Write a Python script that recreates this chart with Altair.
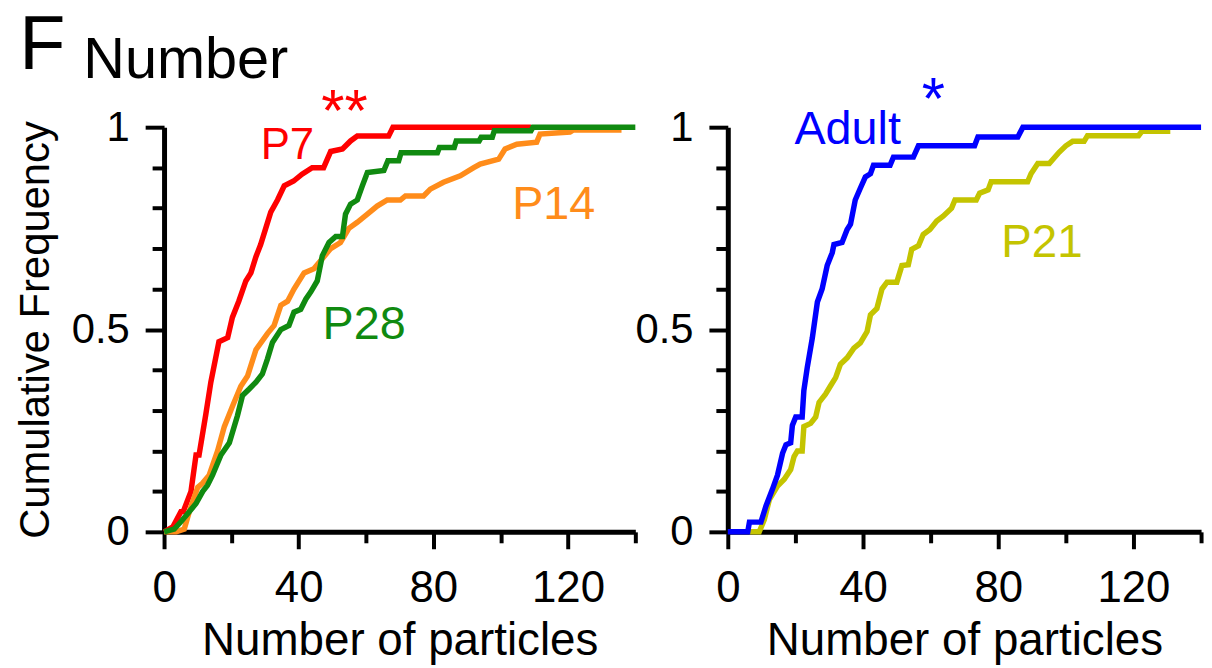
import altair as alt
import pandas as pd

# ---------------- data ----------------
p7_x = [0, 2.6, 5, 5.7, 8, 9.5, 10.4, 12.4, 13.9, 16.3, 18.9, 20.3, 22.2, 24.3, 25.8, 27.3,
        28.7, 30.2, 31.7, 33.7, 35.7, 38.5, 41, 44, 47.4, 49.5, 53, 55.4, 57.4, 66.7, 68, 109]
p7_y = [0, 0.012, 0.05, 0.05, 0.1, 0.19, 0.19, 0.29, 0.37, 0.47, 0.48, 0.53, 0.57, 0.62, 0.64, 0.68,
        0.71, 0.75, 0.79, 0.82, 0.855, 0.867, 0.884, 0.9, 0.9, 0.94, 0.946, 0.966, 0.978, 0.978, 1.0, 1.0]

p14_x = [0, 3.6, 6, 7.5, 10, 11.4, 13.4, 15.9, 17.9, 20.3, 22.8, 24.8, 27.3, 30.7, 32.7, 34.7,
         36.7, 38.6, 41.6, 44.5, 47, 49.5, 52.4, 54.9, 57.4, 60.4, 63.3, 66.3, 70.2, 71.7, 77.1,
         79.1, 83, 88, 92, 93.9, 99.4, 101.3, 104.8, 110.7, 111.7, 120.6, 121.6, 135.9]
p14_y = [0, 0, 0.007, 0.05, 0.11, 0.12, 0.14, 0.2, 0.26, 0.31, 0.36, 0.385, 0.45, 0.49, 0.51, 0.56,
         0.57, 0.6, 0.64, 0.65, 0.675, 0.7, 0.715, 0.75, 0.765, 0.785, 0.805, 0.82, 0.82, 0.83, 0.83,
         0.847, 0.864, 0.88, 0.9, 0.909, 0.921, 0.946, 0.958, 0.963, 0.983, 0.988, 0.993, 0.993]

p28_x = [0, 3, 5, 7, 9.5, 11.5, 12.9, 14.4, 16.9, 19.4, 21.8, 23.3, 25.3, 27.3, 29.2, 30.7, 32.2,
         34.7, 37.1, 38.6, 40.6, 42.1, 43.6, 45.5, 47, 49, 51, 53, 53.9, 55.4, 57.4, 58.9, 60.4,
         65.3, 66.5, 69.7, 70.4, 81.2, 81.8, 86.2, 86.8, 93.6, 94.2, 97.5, 98.1, 109, 109.6, 140]
p28_y = [0, 0.007, 0.025, 0.045, 0.07, 0.1, 0.115, 0.14, 0.19, 0.22, 0.287, 0.337, 0.353, 0.37, 0.39,
         0.427, 0.468, 0.5, 0.51, 0.543, 0.55, 0.575, 0.593, 0.62, 0.682, 0.715, 0.73, 0.73, 0.785,
         0.81, 0.82, 0.855, 0.888, 0.893, 0.917, 0.917, 0.937, 0.937, 0.95, 0.95, 0.966, 0.966,
         0.975, 0.975, 0.991, 0.991, 1.0, 1.0]

adult_x = [0, 5.9, 6.4, 9.8, 11.3, 13.2, 14.7, 16.2, 17.2, 18.6, 19.1, 20.1, 22, 22.5, 23.5, 25,
           26.5, 27.9, 29.4, 30.9, 31.4, 33.8, 35.3, 36.3, 37.7, 39.2, 40.7, 42.2, 43.1, 48, 49,
           54.9, 56.4, 73, 74, 85.8, 87.3, 140]
adult_y = [0, 0, 0.024, 0.024, 0.064, 0.105, 0.14, 0.194, 0.215, 0.22, 0.263, 0.284, 0.284, 0.349,
           0.406, 0.479, 0.568, 0.6, 0.658, 0.69, 0.71, 0.715, 0.747, 0.76, 0.82, 0.849, 0.877,
           0.885, 0.906, 0.906, 0.926, 0.926, 0.954, 0.954, 0.976, 0.976, 1.0, 1.0]

p21_x = [6.4, 9.3, 10.8, 12.3, 14.7, 16.7, 18.6, 19.6, 20.6, 22, 22.5, 24.5, 26, 27, 28.9, 30.4,
         31.9, 33.3, 35.3, 37.3, 39.2, 41.2, 42.2, 44.1, 45.6, 47.1, 50, 51.5, 53.4, 54.4, 56.4,
         57.8, 59.8, 61.8, 63.7, 66.2, 67.2, 73.5, 74.5, 77, 77.9, 88.7, 89.7, 91.7, 95.1, 98,
         100, 102, 105.4, 106.4, 121.5, 122.5, 130.9]
p21_y = [0, 0, 0.03, 0.08, 0.113, 0.13, 0.154, 0.186, 0.2, 0.2, 0.26, 0.268, 0.284, 0.32, 0.34,
         0.361, 0.381, 0.414, 0.43, 0.454, 0.467, 0.495, 0.536, 0.552, 0.6, 0.617, 0.617, 0.658,
         0.66, 0.698, 0.707, 0.735, 0.747, 0.768, 0.78, 0.8, 0.82, 0.82, 0.837, 0.845, 0.865,
         0.865, 0.885, 0.91, 0.91, 0.938, 0.954, 0.965, 0.965, 0.979, 0.979, 0.99, 0.99]

x_ticks = [0, 10, 20, 30, 40, 50, 60, 70, 80, 90, 100, 110, 120, 130, 140]
y_ticks = [0, 0.1, 0.2, 0.3, 0.4, 0.5, 0.6, 0.7, 0.8, 0.9, 1.0]

left_series = ["P7", "P14", "P28"]
right_series = ["P21", "Adult"]
colors = {"P7": "#FF0000", "P14": "#FF8C1A", "P28": "#108A10", "Adult": "#0000FF", "P21": "#C4C400"}

# annotations (data coordinates)
left_text = pd.DataFrame({
    "text": ["F", "Number", "P7", "**", "P14", "P28"],
    "x": [-43, -24, 28.7, 53.6, 103.4, 47.1],
    "y": [1.145, 1.121, 0.921, 0.99, 0.773, 0.477],
    "color": ["#000000", "#000000", colors["P7"], colors["P7"], colors["P14"], colors["P28"]],
    "size": [76, 58, 44, 60, 47, 47],
    "align": ["left", "left", "left", "center", "left", "left"],
})
right_text = pd.DataFrame({
    "text": ["Adult", "*", "P21"],
    "x": [19.7, 60.8, 80.9],
    "y": [0.959, 1.02, 0.678],
    "color": [colors["Adult"], colors["Adult"], colors["P21"]],
    "size": [47, 60, 46],
    "align": ["left", "center", "left"],
})

FONT = "Liberation Sans"


def series_df(names, xs_list, ys_list):
    rows = []
    for n, xs, ys in zip(names, xs_list, ys_list):
        for i, (a, b) in enumerate(zip(xs, ys)):
            rows.append({"series": n, "x": a, "y": b, "i": i, "color": colors[n]})
    return pd.DataFrame(rows)


def axis_x():
    return alt.Axis(
        values=x_ticks,
        labelExpr="datum.value % 40 === 0 ? datum.label : ''",
        tickSize={"condition": {"test": "datum.value % 40 === 0", "value": 17}, "value": 11},
        tickWidth=4, tickColor="black", domainWidth=5, domainColor="black",
        labelFont=FONT, labelFontSize=44, labelColor="black", labelPadding=18,
        titleFont=FONT, titleFontSize=46, titleFontWeight="normal", titleColor="black",
        titlePadding=8, grid=False, labelFlush=False, labelOverlap=False, title="Number of particles",
    )


def axis_y(title):
    return alt.Axis(
        values=y_ticks,
        labelExpr="datum.value === 0 ? '0' : (datum.value === 0.5 ? '0.5' : (datum.value === 1 ? '1' : ''))",
        tickSize={"condition": {"test": "datum.value === 0 || datum.value === 0.5 || datum.value === 1",
                                "value": 19}, "value": 12},
        tickWidth=4, tickColor="black", domainWidth=5, domainColor="black",
        labelFont=FONT, labelFontSize=42, labelColor="black", labelPadding=16,
        titleFont=FONT, titleFontSize=42, titleFontWeight="normal", titleColor="black",
        titlePadding=14, grid=False, labelFlush=False, labelOverlap=False,
        title=title if title else "",
    )


def panel(names, xs_list, ys_list, text_df, ytitle, width, height):
    df = series_df(names, xs_list, ys_list)
    xs = alt.Scale(domain=[0, 140], nice=False, zero=False)
    ys = alt.Scale(domain=[0, 1], nice=False, zero=False)
    lines = alt.Chart(df).mark_line(strokeWidth=5.5, strokeJoin="miter", clip=False).encode(
        x=alt.X("x:Q", scale=xs, axis=axis_x()),
        y=alt.Y("y:Q", scale=ys, axis=axis_y(ytitle)),
        color=alt.Color("color:N", scale=None),
        detail="series:N",
        order="i:Q",
    )
    texts = []
    for al in ["left", "center"]:
        sub = text_df[text_df["align"] == al]
        if len(sub) == 0:
            continue
        texts.append(
            alt.Chart(sub).mark_text(align=al, baseline="alphabetic", font=FONT).encode(
                x=alt.X("x:Q", scale=xs),
                y=alt.Y("y:Q", scale=ys),
                text="text:N",
                color=alt.Color("color:N", scale=None),
                size=alt.Size("size:Q", scale=None),
            )
        )
    return alt.layer(lines, *texts).properties(width=width, height=height)


left = panel(left_series, [p7_x, p14_x, p28_x], [p7_y, p14_y, p28_y], left_text,
             "Cumulative Frequency", 474, 407)
right = panel(right_series, [p21_x, adult_x], [p21_y, adult_y], right_text, None, 476, 407)

chart = alt.hconcat(left, right, spacing=93, bounds="flush").properties(
    padding={"left": 14, "top": 5, "right": 0, "bottom": 0},
    background="white",
).configure_view(stroke=None)

chart.save("out.html", embed_options={"renderer": "svg", "actions": False})
